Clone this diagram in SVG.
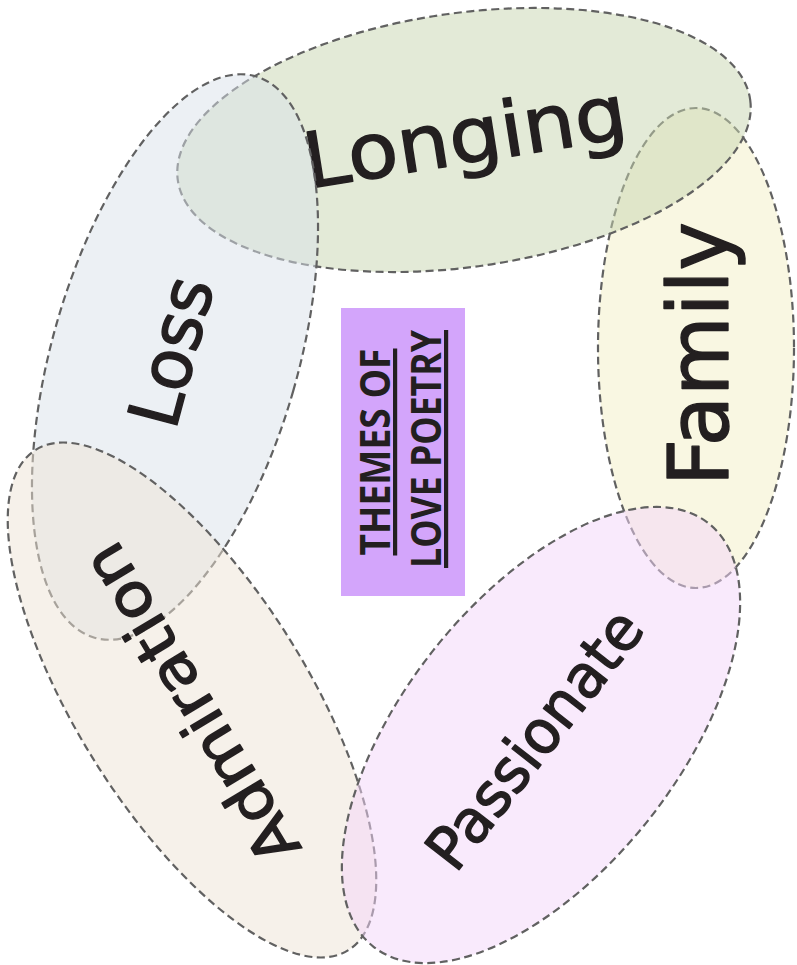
<svg xmlns="http://www.w3.org/2000/svg" width="797" height="965" viewBox="0 0 797 965">
<style>
.blob{fill-opacity:0.5;stroke:#616161;stroke-width:2.2;stroke-dasharray:8 4.5}
.lbl{font-family:"DejaVu Sans","Liberation Sans",sans-serif;fill:#231f20;stroke:#231f20;stroke-width:1.4;stroke-linejoin:round;text-anchor:middle}
.ttl{font-family:"Open Sans","Liberation Sans",sans-serif;font-weight:bold;font-size:42px;fill:#231f20;text-anchor:middle;text-decoration:underline}
</style>
<rect width="797" height="965" fill="#ffffff"/>
<g id="node-family">
<ellipse class="blob" cx="696" cy="348" rx="98" ry="240" fill="#f3efc5"/>
<text class="lbl" x="728" y="354" font-size="84" textLength="264" lengthAdjust="spacingAndGlyphs" transform="rotate(-90 728 354)">Family</text>
</g>
<g id="node-longing">
<ellipse class="blob" cx="464" cy="140" rx="289" ry="127" fill="#c7d5af" transform="rotate(-8 464 140)"/>
<text class="lbl" x="469" y="163" font-size="77" textLength="326" lengthAdjust="spacingAndGlyphs" transform="rotate(-9 469 163)">Longing</text>
</g>
<g id="node-loss">
<ellipse class="blob" cx="175" cy="357" rx="123" ry="292" fill="#d9e1e9" transform="rotate(16 175 357)"/>
<text class="lbl" x="195" y="358" font-size="70" textLength="152" lengthAdjust="spacingAndGlyphs" transform="rotate(-75 195 358)">Loss</text>
</g>
<g id="node-admiration">
<ellipse class="blob" cx="192" cy="700" rx="115" ry="295" fill="#ede3d5" transform="rotate(-32 192 700)"/>
<text class="lbl" x="209" y="693" font-size="60" textLength="362" lengthAdjust="spacingAndGlyphs" transform="rotate(-121 209 693)">Admiration</text>
</g>
<g id="node-passionate">
<ellipse class="blob" cx="541" cy="735" rx="137" ry="270" fill="#f3d5f9" transform="rotate(38.4 541 735)"/>
<text class="lbl" x="551" y="752" font-size="60" textLength="310" lengthAdjust="spacingAndGlyphs" transform="rotate(-52 551 752)">Passionate</text>
</g>
<g id="node-title">
<rect x="341" y="308" width="124" height="288" fill="#d3a5fb"/>
<text class="ttl" x="390" y="452" textLength="207" lengthAdjust="spacingAndGlyphs" transform="rotate(-90 390 452)">THEMES OF</text>
<text class="ttl" x="441" y="449" textLength="238" lengthAdjust="spacingAndGlyphs" transform="rotate(-90 441 449)">LOVE POETRY</text>
</g>
</svg>
